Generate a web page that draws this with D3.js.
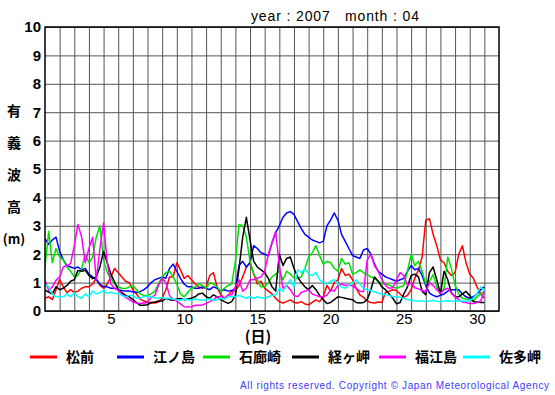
<!DOCTYPE html>
<html>
<head>
<meta charset="utf-8">
<script src="https://cdn.jsdelivr.net/npm/d3@7"></script>
<style>
  body { margin: 0; background: #fff; }
  text { font-family: "Liberation Sans", Arial, sans-serif; }
  .jp { font-family: "Noto Sans CJK JP", sans-serif; font-weight: bold; }
</style>
</head>
<body>
<div id="chart"></div>
<script>
// station names (legend order) and colours
var stations = ["松前", "江ノ島", "石廊崎", "経ヶ岬", "福江島", "佐多岬"];
var colors = ["#ff0000", "#0000ff", "#00e000", "#000000", "#ff00ff", "#00ffff"];

// significant wave height (m), one reading every 6 hours from day 1 00:00
var matsumae = [0.45,0.5,0.4,0.75, 1.1,0.85,0.65,0.75, 0.65,0.7,0.8,0.85, 0.85,0.95,1.15,0.9,
  0.8,0.95,1.2,1.5, 1.35,1.2,1.05,1.0, 0.75,0.6,0.42,0.35, 0.32,0.28,0.28,0.32,
  0.45,0.75,1.2,1.2, 1.7,1.45,1.15,1.25, 1.1,0.95,0.85,0.8, 0.85,1.25,1.35,0.85,
  0.57,0.45,0.55,0.7, 0.7,0.9,1.2,1.55, 1.7,1.3,0.95,1.05, 0.8,0.7,0.6,0.45,
  0.33,0.28,0.33,0.39, 0.3,0.28,0.33,0.25, 0.22,0.3,0.39,0.33, 0.5,0.9,0.7,1.0,
  1.1,1.5,1.25,1.3, 1.1,0.8,0.57,0.48, 0.35,0.3,0.28,0.32, 0.3,0.65,0.7,0.75,
  0.72,0.6,0.48,0.55, 0.75,1.15,1.45,1.9, 3.2,3.25,2.7,2.3, 1.8,1.7,1.4,1.25,
  1.35,2.0,2.3,1.7, 1.3,1.15,0.85,0.6, 0.45];
var enoshima = [2.55,2.35,2.5,2.6, 2.1,1.8,1.6,1.55, 1.5,1.55,1.45,1.5, 1.3,1.2,1.1,0.95,
  0.85,0.85,0.8,0.8, 0.75,0.72,0.7,0.7, 0.68,0.65,0.68,0.75, 0.85,1.0,1.1,1.15,
  1.2,1.15,1.5,1.65, 1.4,1.15,0.95,0.85, 0.85,0.8,0.8,0.85, 0.8,0.75,0.85,0.8,
  0.7,0.75,0.7,0.72, 0.8,1.6,1.75,1.55, 1.7,2.3,2.2,2.05, 2.0,1.95,2.4,2.75,
  3.0,3.3,3.45,3.5, 3.4,3.15,2.9,2.7, 2.6,2.5,2.45,2.4, 2.45,3.0,3.2,3.45,
  3.2,2.7,2.45,2.2, 1.95,1.9,1.85,2.15, 2.2,2.0,1.65,1.4, 1.3,1.2,1.15,1.1,
  1.05,1.1,1.15,1.4, 1.6,1.45,1.5,1.25, 0.9,0.63,0.55,0.5, 0.55,0.6,0.7,0.75,
  0.75,0.75,0.6,0.5, 0.45,0.5,0.6,0.75, 0.85];
var irozaki = [1.55,2.8,1.7,2.2, 1.9,1.8,1.55,1.4, 1.2,1.25,1.5,2.0, 1.7,1.9,2.6,3.0,
  1.8,1.35,1.15,0.95, 0.85,0.8,0.79,0.85, 0.9,0.75,0.6,0.55, 0.55,0.6,0.7,0.96,
  1.2,1.35,1.4,1.2, 0.95,0.6,0.5,0.65, 0.8,0.85,0.95,0.9, 0.8,1.0,0.95,0.85,
  0.69,0.8,0.9,0.95, 1.75,3.05,3.0,2.6, 1.75,1.3,1.1,0.85, 0.85,1.0,1.2,1.3,
  1.4,1.1,1.4,1.3, 1.16,1.16,1.2,1.5, 1.9,2.05,2.3,1.95, 1.65,1.75,1.7,1.5,
  1.4,1.85,1.65,1.7, 1.3,1.35,1.45,1.35, 1.28,1.2,1.16,1.05, 0.98,0.95,0.92,0.85,
  0.8,0.85,0.9,1.4, 2.0,1.6,1.75,1.4, 0.95,1.04,1.28,0.85, 0.6,0.8,1.9,1.5,
  0.92,0.6,0.45,0.42, 0.39,0.35,0.5,0.6, 0.7];
var kyogamisaki = [0.73,0.67,0.6,0.85, 0.75,0.8,0.9,1.05, 1.1,1.43,1.4,1.43, 1.25,1.14,1.2,1.55,
  2.1,1.7,1.3,1.02, 0.75,0.65,0.55,0.5, 0.4,0.3,0.2,0.2, 0.22,0.3,0.32,0.35,
  0.35,0.44,0.4,0.38, 0.42,0.44,0.4,0.42, 0.45,0.5,0.6,0.63, 0.5,0.45,0.57,0.5,
  0.4,0.33,0.27,0.33, 0.55,1.5,2.6,3.3, 2.5,1.75,1.55,1.45, 1.35,1.15,0.85,0.7,
  2.0,1.6,1.85,1.9, 1.5,1.2,1.0,0.85, 0.75,0.9,0.75,0.55, 0.4,0.26,0.3,0.4,
  0.5,0.48,0.45,0.42, 0.4,0.3,0.28,0.3, 0.4,0.75,1.2,1.05, 0.85,0.75,0.6,0.45,
  0.25,0.3,0.6,0.85, 1.25,1.3,1.2,0.7, 0.57,1.35,1.55,1.1, 0.6,1.4,1.1,0.63,
  0.5,0.5,0.6,0.69, 0.55,0.33,0.32,0.3, 0.3];
var fukuejima = [1.08,0.73,0.85,1.08, 1.2,1.55,1.6,1.67, 2.3,3.05,2.6,1.7, 2.2,2.6,1.1,2.2,
  3.1,1.7,0.95,0.8, 0.73,0.6,0.48,0.4, 0.32,0.28,0.26,0.28, 0.3,0.48,0.55,0.9,
  1.15,1.0,0.55,0.4, 0.35,0.25,0.15,0.14, 0.15,0.2,0.2,0.21, 0.27,0.33,0.39,0.5,
  0.51,0.45,0.55,0.57, 0.85,1.1,0.7,0.8, 1.1,1.1,1.16,1.2, 1.4,2.0,2.4,2.8,
  1.6,0.8,0.9,0.75, 0.55,0.5,0.65,0.7, 0.75,0.6,0.55,0.5, 0.5,0.55,0.75,0.7,
  0.9,0.95,0.9,0.92, 0.88,0.8,0.7,0.68, 1.8,2.0,1.6,1.4, 1.1,0.9,0.8,0.82,
  1.1,1.35,1.25,0.9, 1.0,0.82,0.78,0.72, 0.68,1.0,0.9,0.75, 0.62,0.75,0.8,0.65,
  0.5,0.4,0.32,0.3, 0.26,0.26,0.3,0.35, 0.7];
var satamisaki = [0.95,0.85,0.6,0.5, 0.5,0.5,0.6,0.5, 0.65,0.5,0.45,0.6, 0.5,0.7,0.6,0.65,
  0.73,0.62,0.66,0.62, 0.62,0.55,0.5,0.55, 0.55,0.45,0.47,0.5, 0.52,0.5,0.47,0.45,
  0.48,0.44,0.45,0.42, 0.4,0.38,0.42,0.4, 0.38,0.42,0.4,0.38, 0.4,0.42,0.38,0.4,
  0.45,0.42,0.5,0.5, 0.51,0.55,0.5,0.45, 0.5,0.45,0.5,0.47, 0.45,0.5,0.55,0.57,
  0.8,0.69,0.92,1.1, 0.85,1.45,1.35,1.5, 1.3,1.25,1.35,1.1, 1.0,0.95,1.05,1.1,
  0.95,0.85,0.8,0.9, 0.98,1.1,0.95,0.8, 0.75,0.72,0.68,0.63, 0.6,0.57,0.55,0.5,
  0.5,0.48,0.45,0.4, 0.38,0.36,0.35,0.35, 0.33,0.35,0.38,0.34, 0.33,0.35,0.36,0.34,
  0.35,0.36,0.35,0.34, 0.38,0.45,0.62,0.85, 0.7];

var series = [matsumae, enoshima, irozaki, kyogamisaki, fukuejima, satamisaki];
var stepDays = 0.25;

var yTicks = [0,1,2,3,4,5,6,7,8,9,10];
var dayLabels = [5,10,15,20,25,30];
var yLabelChars = ["有", "義", "波", "高"];

// set the dimensions and margins of the graph
var margin = {top: 27, right: 56, bottom: 84, left: 45},
    width = 555 - margin.left - margin.right,
    height = 395 - margin.top - margin.bottom;

var root = d3.select("#chart")
  .append("svg")
    .attr("width", 555)
    .attr("height", 395);

var svg = root.append("g")
    .attr("transform", "translate(" + margin.left + "," + margin.top + ")");

// x: days since day 1 00:00, 31 day cells
var x = d3.scaleLinear()
  .domain([0, 31])
  .range([0, width]);

var y = d3.scaleLinear()
  .domain([0, 10])
  .range([height, 0]);

// vertical grid, one line per day
svg.append("g")
    .call(d3.axisBottom(x).tickValues(d3.range(1, 31)).tickSize(height).tickFormat(""))
    .call(g => g.select(".domain").remove())
    .call(g => g.selectAll("line").attr("stroke", "#555").attr("stroke-width", 1));

// horizontal grid + labels
svg.append("g")
    .call(d3.axisLeft(y).tickValues(yTicks).tickSize(-width).tickPadding(4))
    .call(g => g.select(".domain").remove())
    .call(g => g.selectAll("line").attr("stroke", "#555").attr("stroke-width", 1))
    .call(g => g.selectAll("text")
        .attr("font-size", 15).attr("font-weight", "bold")
        .attr("fill", "#000")
        .attr("font-family", "'Liberation Sans', Arial, sans-serif"));

// day labels sit in the middle of each day cell
svg.append("g")
    .attr("transform", "translate(0," + height + ")")
    .call(d3.axisBottom(x).tickValues(dayLabels.map(d => d - 0.5))
        .tickFormat(d => d + 0.5).tickSize(0).tickPadding(2))
    .call(g => g.select(".domain").remove())
    .call(g => g.selectAll("text")
        .attr("font-size", 15).attr("fill", "#000")
        .attr("font-family", "'Liberation Sans', Arial, sans-serif"));

// lines
svg.append("clipPath").attr("id", "clip")
  .append("rect").attr("width", width).attr("height", height);

var line = d3.line()
    .x((d, i) => x(i * stepDays))
    .y(d => y(d));

svg.append("g")
    .attr("clip-path", "url(#clip)")
  .selectAll("path")
  .data(series)
  .join("path")
    .attr("fill", "none")
    .attr("stroke", (d, i) => colors[i])
    .attr("stroke-width", 1.5)
    .attr("stroke-linejoin", "round")
    .attr("d", line);

// frame
svg.append("rect")
    .attr("width", width).attr("height", height)
    .attr("fill", "none").attr("stroke", "#000").attr("stroke-width", 1.5);

// title
root.append("text")
    .attr("x", 251).attr("y", 21)
    .attr("font-size", 14)
    .attr("textLength", 168)
    .attr("xml:space", "preserve")
    .text("year : 2007   month : 04");

// y axis title
root.append("g").selectAll("text")
  .data(yLabelChars)
  .join("text")
    .attr("class", "jp")
    .attr("x", 14).attr("y", (d, i) => 116 + i * 32)
    .attr("text-anchor", "middle")
    .attr("font-size", 14)
    .text(d => d);
root.append("text")
    .attr("class", "jp")
    .attr("x", 14).attr("y", 244)
    .attr("text-anchor", "middle")
    .attr("font-size", 13)
    .text("(m)");

// x axis title
root.append("text")
    .attr("class", "jp")
    .attr("x", 258).attr("y", 342)
    .attr("text-anchor", "middle")
    .attr("font-size", 15)
    .text("(日)");

// legend
var legendX = [30, 117, 203, 292, 379, 463];
var legend = root.append("g").selectAll("g")
  .data(stations)
  .join("g")
    .attr("transform", (d, i) => "translate(" + legendX[i] + ",357)");
legend.append("line")
    .attr("x1", 0).attr("x2", 27)
    .attr("stroke", (d, i) => colors[i])
    .attr("stroke-width", 3);
legend.append("text")
    .attr("class", "jp")
    .attr("x", 36).attr("y", 5)
    .attr("font-size", 14)
    .text(d => d);

// footer
root.append("text")
    .attr("x", 240).attr("y", 389)
    .attr("font-size", 10)
    .attr("fill", "#3c3cff")
    .attr("textLength", 309)
    .text("All rights reserved. Copyright © Japan Meteorological Agency");
</script>
</body>
</html>
